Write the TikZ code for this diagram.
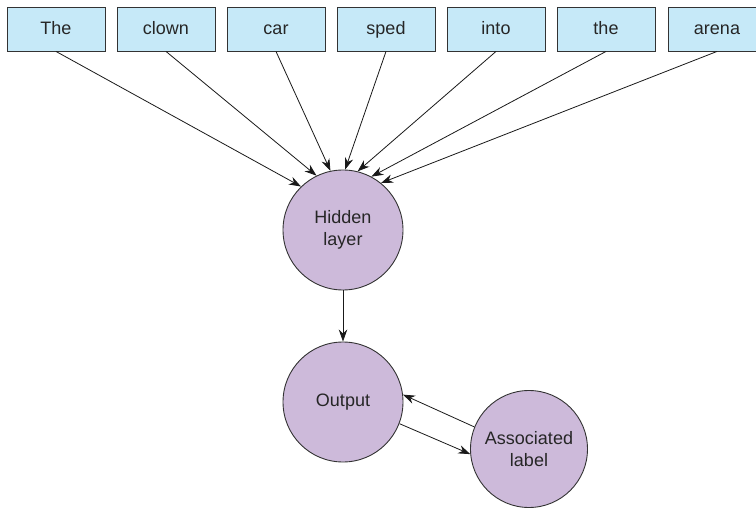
\documentclass[tikz,border=0pt]{standalone}
\usepackage{fontspec}
\setmainfont{Liberation Sans}
\usetikzlibrary{arrows.meta}
\definecolor{boxfill}{HTML}{C6E9F8}
\definecolor{circfill}{HTML}{CDBADA}
\definecolor{edge}{HTML}{333333}
\begin{document}
\begin{tikzpicture}[x=1pt,y=-1pt,
  word/.style={draw=edge, line width=0.9pt, fill=boxfill, minimum width=98pt, minimum height=44pt, inner sep=0pt,
    text height=13pt, text depth=1pt,
    font=\fontsize{18}{21}\selectfont, text=black!85},
  unit/.style={circle, draw=edge, line width=0.9pt, fill=circfill, inner sep=0pt, align=center,
    font=\fontsize{18}{22}\selectfont, text=black!85},
  conn/.style={draw=black!90, line width=0.8pt, -{Stealth[length=12pt,width=8.5pt]}}]
\useasboundingbox (0,0) rectangle (756,508);
\begin{scope}
\clip (0,0) rectangle (756,508);
\node[word] (w1) at (56,29) {The};
\node[word] (w2) at (166,29) {clown};
\node[word] (w3) at (276,29) {car};
\node[word] (w4) at (386,29) {sped};
\node[word] (w5) at (496,29) {into};
\node[word] (w6) at (606,29) {the};
\node[word] (w7) at (717,29) {arena};
\end{scope}
\node[unit, minimum size=120pt] (hid) at (343,230) {Hidden\\layer};
\node[unit, minimum size=120pt] (out) at (343,402) {Output};
\node[unit, minimum size=117pt] (lab) at (529,449) {Associated\\label};
\draw[conn] (w1.south) -- (hid.134);
\draw[conn] (w2.south) -- (hid.116);
\draw[conn] (w3.south) -- (hid.102);
\draw[conn] (w4.south) -- (hid.88);
\draw[conn] (w5.south) -- (hid.76);
\draw[conn] (w6.south) -- (hid.62);
\draw[conn] (w7.south) -- (hid.51);
\draw[conn] (hid.south) -- (out.north);
\draw[conn] (lab.158) -- (out.7);
\draw[conn] (out.-21) -- (lab.-175);
\end{tikzpicture}
\end{document}
